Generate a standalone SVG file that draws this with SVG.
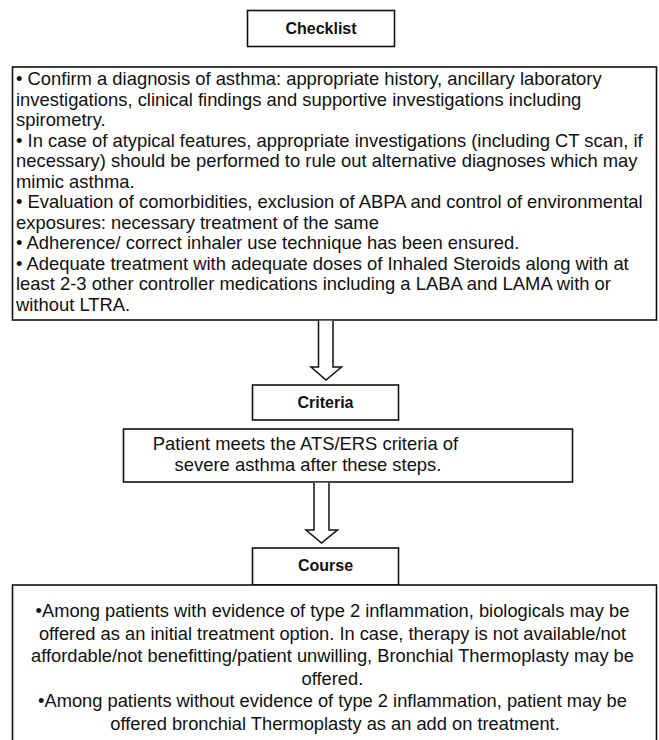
<svg xmlns="http://www.w3.org/2000/svg" width="659" height="740" viewBox="0 0 659 740">
<style>
.box{fill:#fff;stroke:#111;stroke-width:1.6}
.arrow{fill:#fff;stroke:#111;stroke-width:1.5;stroke-linejoin:miter}
.t{font-family:"Liberation Sans",Arial,sans-serif;font-size:18.4px;fill:#111}
.h{font-family:"Liberation Sans",Arial,sans-serif;font-size:16px;font-weight:bold;fill:#111;text-anchor:middle}
.c{text-anchor:middle}
</style>
<rect width="659" height="740" fill="#fff"/>
<g id="checklist-title">
<rect class="box" x="247.5" y="10.5" width="147" height="36"/>
<text class="h" x="321" y="34">Checklist</text>
</g>
<g id="checklist">
<rect class="box" x="12.5" y="67" width="644" height="253"/>
<text class="t">
<tspan x="16" y="85">• Confirm a diagnosis of asthma: appropriate history, ancillary laboratory</tspan>
<tspan x="16" y="105.5">investigations, clinical findings and supportive investigations including</tspan>
<tspan x="16" y="126">spirometry.</tspan>
<tspan x="16" y="146.5">• In case of atypical features, appropriate investigations (including CT scan, if</tspan>
<tspan x="16" y="167">necessary) should be performed to rule out alternative diagnoses which may</tspan>
<tspan x="16" y="187.5">mimic asthma.</tspan>
<tspan x="16" y="208">• Evaluation of comorbidities, exclusion of ABPA and control of environmental</tspan>
<tspan x="16" y="228.5">exposures: necessary treatment of the same</tspan>
<tspan x="16" y="249">• Adherence/ correct inhaler use technique has been ensured.</tspan>
<tspan x="16" y="269.5">• Adequate treatment with adequate doses of Inhaled Steroids along with at</tspan>
<tspan x="16" y="290">least 2-3 other controller medications including a LABA and LAMA with or</tspan>
<tspan x="16" y="310.5">without LTRA.</tspan>
</text>
</g>
<g id="criteria-title">
<rect class="box" x="252.5" y="385" width="146" height="35"/>
<text class="h" x="325.5" y="408">Criteria</text>
</g>
<g id="criteria">
<rect class="box" x="123.5" y="429" width="449" height="53"/>
<text class="t c">
<tspan x="308" y="450">Patient meets the ATS/ERS criteria of</tspan>
<tspan x="308" y="471">severe asthma after these steps.</tspan>
</text>
</g>
<g id="course-title">
<rect class="box" x="252.5" y="548" width="146" height="37"/>
<text class="h" x="325.5" y="571">Course</text>
</g>
<g id="course">
<rect class="box" x="12.5" y="585" width="644" height="160"/>
<text class="t c" style="font-size:18.3px">
<tspan x="335" y="617">•Among patients with evidence of type 2 inflammation, biologicals may be</tspan>
<tspan x="335" y="639.5">offered as an initial treatment option. In case, therapy is not available/not</tspan>
<tspan x="335" y="662">affordable/not benefitting/patient unwilling, Bronchial Thermoplasty may be</tspan>
<tspan x="335" y="684.5">offered.</tspan>
<tspan x="335" y="707">•Among patients without evidence of type 2 inflammation, patient may be</tspan>
<tspan x="335" y="729.5">offered bronchial Thermoplasty as an add on treatment.</tspan>
</text>
</g>
<g id="connectors">
<path class="arrow" d="M318.5,320.8 V367 H311 L326,380 L341.5,367 H333 V320.8"/>
<path class="arrow" d="M314,482.8 V530 H306 L321.5,543 L337.5,530 H329 V482.8"/>
</g>
</svg>
